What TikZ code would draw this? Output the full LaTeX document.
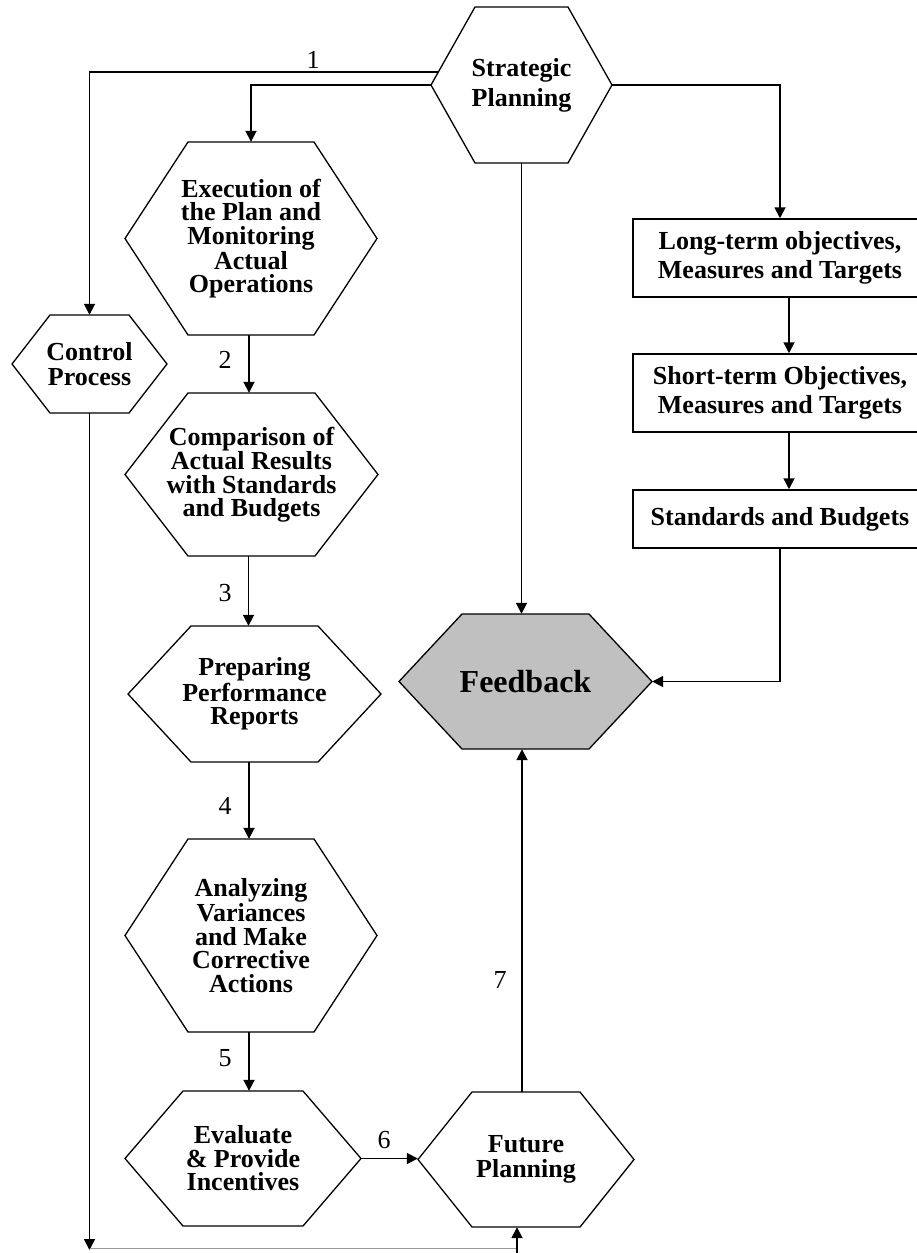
\documentclass[tikz,border=0pt]{standalone}
\usepackage{fontspec}
\setmainfont{Liberation Serif}
\usetikzlibrary{arrows.meta,calc}
% #1 name, #2 left, #3 right, #4 top, #5 bottom, #6 inset, #7 path style, #8 node style, #9 text
\newcommand{\hexshape}[9]{%
  \path[#7] (#2,{(#4+#5)/2}) -- ({#2+#6},#4) -- ({#3-#6},#4) -- (#3,{(#4+#5)/2}) -- ({#3-#6},#5) -- ({#2+#6},#5) -- cycle;
  \node[txt,minimum width={(#3-#2)*1pt},minimum height={(#5-#4)*1pt},#8] (#1) at ({(#2+#3)/2},{(#4+#5)/2}) {#9};
}
\begin{document}
\begin{tikzpicture}[x=1pt,y=-1pt,
  hexline/.style={draw=black,line width=1.3pt,line join=miter},
  conn/.style={line width=1.8pt,-{Triangle[length=11pt,width=11pt]}},
  txt/.style={font=\bfseries\fontsize{26}{23.5}\selectfont,align=center,inner sep=0pt},
  num/.style={font=\fontsize{26}{28}\selectfont,inner sep=0pt},
  boxn/.style={draw,line width=1.5pt,inner sep=0pt,font=\bfseries\fontsize{26}{29}\selectfont,align=center}]
\clip (0,0) rectangle (917,1253);
\fill[white] (0,0) rectangle (917,1253);

% hexagons
\hexshape{strat}{431}{612}{7}{163}{44}{hexline}{font=\bfseries\fontsize{26}{30}\selectfont}{Strategic\\Planning}
\hexshape{exec}{125}{377}{142}{335}{63}{hexline}{}{Execution of\\the Plan and\\Monitoring\\Actual\\Operations}
\hexshape{ctrl}{12}{167}{315}{413}{38}{hexline}{font=\bfseries\fontsize{26}{25}\selectfont}{Control\\Process}
\hexshape{comp}{125}{378}{393}{556}{63}{hexline}{}{Comparison of\\Actual Results\\with Standards\\and Budgets}
\hexshape{prep}{128}{381}{626}{762}{63}{hexline}{}{Preparing\\Performance\\Reports}
\hexshape{anal}{125}{377}{839}{1032}{63}{hexline}{}{Analyzing\\Variances\\and Make\\Corrective\\Actions}
\hexshape{eval}{125}{361}{1091}{1226}{58}{hexline}{}{Evaluate\\\& Provide\\Incentives}
\hexshape{future}{418}{634}{1092}{1227}{54}{hexline}{font=\bfseries\fontsize{26}{25}\selectfont}{Future\\Planning}
\hexshape{fb}{399}{652}{614}{749}{63}{hexline,fill={rgb,255:red,192;green,192;blue,192}}{font=\bfseries\fontsize{32}{36}\selectfont}{Feedback}

% boxes (right edge runs past the page)
\node[boxn,minimum width=294pt,minimum height=78pt] (lt) at (780,258) {Long-term objectives,\\Measures and Targets};
\node[boxn,minimum width=294pt,minimum height=78pt] (st) at (780,393) {Short-term Objectives,\\Measures and Targets};
\node[boxn,minimum width=294pt,minimum height=58pt] (sb) at (780,519) {Standards and Budgets};

% connectors
\coordinate (s1) at (438,72);
\draw[conn] (s1) -| (ctrl.north);
\draw[conn] (strat.west) -| (exec.north);
\draw[conn] (strat.east) -| (lt.north);
\draw[conn] (strat.south) -- (strat.south |- fb.north);
\draw[conn] ([xshift=9pt]lt.south) -- ([xshift=9pt]st.north);
\draw[conn] ([xshift=9pt]st.south) -- ([xshift=9pt]sb.north);
\draw[conn] (sb.south) |- (fb.east);

\draw[conn] ([xshift=-2pt]exec.south) -- ([xshift=-2pt]exec.south |- comp.north);
\draw[conn] ([xshift=-3pt]comp.south) -- ([xshift=-3pt]comp.south |- prep.north);
\draw[conn] ([xshift=-2pt]anal.north |- prep.south) -- ([xshift=-2pt]anal.north);
\draw[conn] ([xshift=-2pt]anal.south) -- ([xshift=-2pt]anal.south |- eval.north);
\draw[conn] (eval.east) -- (eval.east -| future.west);
\draw[conn] ([xshift=-4pt]future.north) -- ([xshift=-4pt]future.north |- fb.south);

\coordinate (bl) at (89.5,1250);
\coordinate (bu) at (517,1253);
\draw[conn] (ctrl.south) -- (bl);
\draw[line width=1pt,black!40] ([yshift=1.5pt]bl) -- ([yshift=1.5pt]bl -| bu);
\draw[conn] (bu) -- (bu |- future.south);

% labels
\node[num] (n1) at (313,60) {1};
\node[num] (n2) at (225,360) {2};
\node[num] (n3) at (225,593) {3};
\node[num] (n4) at (225,806) {4};
\node[num] (n5) at (225,1058) {5};
\node[num] (n6) at (384,1140) {6};
\node[num] (n7) at (500,980) {7};
\end{tikzpicture}
\end{document}
